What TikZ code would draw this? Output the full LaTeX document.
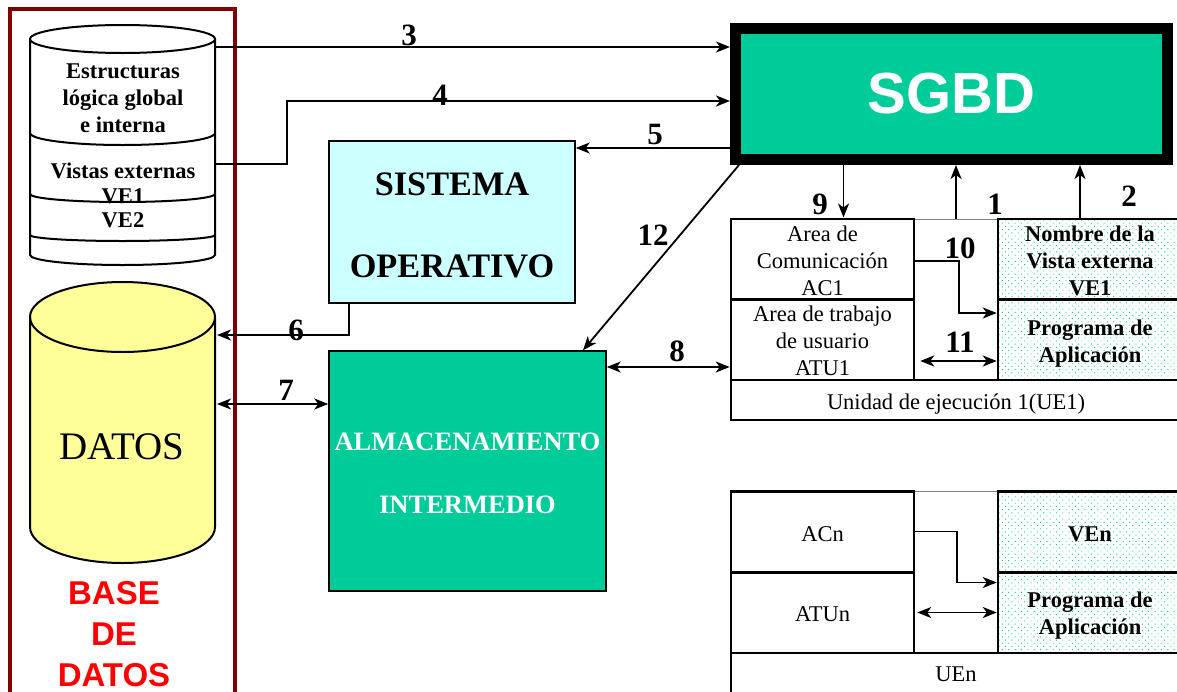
\documentclass[tikz,border=0pt]{standalone}
\usepackage{fontspec}
\setmainfont{Liberation Serif}
\newfontfamily\sansbd{Liberation Sans}[Scale=1.0]
\usetikzlibrary{arrows.meta, patterns.meta, positioning}

\definecolor{verde}{HTML}{00CC99}
\definecolor{amarillo}{HTML}{FFFF99}
\definecolor{celeste}{HTML}{CCFFFF}
\definecolor{granate}{HTML}{800000}

\newcommand{\bajar}[1]{\rule{0pt}{#1pt}}

\tikzset{
	flecha/.style={-{Stealth[length=14pt,width=11pt,inset=4pt]}, line width=1.8},
	dflecha/.style={{Stealth[length=14pt,width=11pt,inset=4pt]}-{Stealth[length=14pt,width=11pt,inset=4pt]}, line width=1.8},
	num/.style={font=\fontsize{31}{31}\selectfont\bfseries, inner sep=0},
	txt/.style={font=\fontsize{22.5}{27}\selectfont, text centered, align=center, inner sep=0},
	txtb/.style={font=\fontsize{22.5}{27}\selectfont\bfseries, text centered, align=center, inner sep=0},
	caja/.style={draw, line width=2.5, rectangle, minimum width=183, minimum height=80.5, txt},
	medio/.style={draw=gray, line width=1, rectangle, minimum width=84, minimum height=161},
	punteado/.style={draw, line width=2.5, rectangle, minimum width=184, minimum height=80.5, txtb,
		pattern={Dots[distance=4.5pt,radius=0.65pt,angle=45]}, pattern color=verde},
	banda/.style={draw, line width=2, rectangle, minimum width=450, txt},
	cilindro/.style={draw, line width=2},
}

\begin{document}
\begin{tikzpicture}[x=1pt, y=1pt]
	\useasboundingbox (0,0) rectangle (1177,-691);

	% base de datos %
	\node[draw=granate, line width=4, rectangle, minimum width=225, minimum height=691, anchor=north west, inner sep=0, outer sep=0] (bd) at (10,-9) {};

	\draw[cilindro] (30,-39) -- (30,-255) arc[start angle=180, end angle=360, x radius=92.5, y radius=10] -- (215,-39);
	\draw[cilindro] (122.5,-39) ellipse [x radius=92.5, y radius=14];
	\draw[cilindro] (30,-133) arc[start angle=180, end angle=360, x radius=92.5, y radius=12];
	\draw[cilindro] (30,-194) arc[start angle=180, end angle=360, x radius=92.5, y radius=8];
	\draw[cilindro] (30,-235) arc[start angle=180, end angle=360, x radius=92.5, y radius=6];

	\draw[cilindro, fill=amarillo] (30,-317) -- (30,-527) arc[start angle=180, end angle=360, x radius=92.5, y radius=36] -- (215,-317) arc[start angle=0, end angle=180, x radius=92.5, y radius=35];
	\draw[cilindro] (30,-317) arc[start angle=180, end angle=360, x radius=92.5, y radius=35];

	\coordinate (log) at (215,-47);
	\coordinate (ext) at (215,-164);
	\coordinate (dat6) at (217,-335);
	\coordinate (dat7) at (217,-404);

	% nodes %
	\node[txtb] (estr) at (123,-98) {Estructuras\\lógica global\\e interna};
	\node[txtb] (vext) at (123,-171) {Vistas externas};
	\node[txtb] (ve1c) at (123,-196) {VE1};
	\node[txtb] (ve2c) at (123,-220) {VE2};
	\node[inner sep=0, font=\fontsize{39}{39}\selectfont] (datos) at (122,-447) {DATOS};
	\node[inner sep=0, text=red, align=center, font=\fontsize{33}{41}\selectfont\sansbd\bfseries] (tbd) at (114,-634) {BASE\\DE\\DATOS};

	\node[draw, line width=11, rectangle, fill=verde, minimum width=432, minimum height=131, inner sep=0, text=white, font=\fontsize{58}{58}\selectfont\sansbd\bfseries] (sgbd) at (951.5,-94) {SGBD};

	\node[draw, line width=1.5, rectangle, fill=celeste, minimum width=246, minimum height=162, inner sep=0, align=center, font=\fontsize{34.3}{82}\selectfont\bfseries] (so) at (452,-222) {\bajar{29.5}SISTEMA\\OPERATIVO};
	\node[draw, line width=1.5, rectangle, fill=verde, minimum width=277, minimum height=240, inner sep=0, align=center, text=white, font=\fontsize{26.5}{63}\selectfont\bfseries] (alm) at (467.5,-471) {\bajar{22}ALMACENAMIENTO\\INTERMEDIO};

	% unidad 1 %
	\node[medio] (mu1) at (956,-299.5) {};
	\node[caja] (ac1) at (822.5,-259) {\bajar{19}Area de\\Comunicación\\AC1};
	\node[caja, below of = ac1, node distance=80.5] (atu1) {\bajar{19}Area de trabajo\\de usuario\\ATU1};
	\node[punteado, right of = ac1, node distance=267.5] (ve1) {\bajar{19}Nombre de la\\Vista externa\\VE1};
	\node[punteado, below of = ve1, node distance=80.5] (prg1) {\bajar{23}Programa de\\Aplicación};
	\node[banda, minimum height=40] (ue1) at (956,-400) {\bajar{23}Unidad de ejecución 1(UE1)};

	% unidad n %
	\node[medio] (mun) at (956,-572) {};
	\node[caja] (acn) at (822.5,-531.5) {\bajar{21}ACn};
	\node[caja, below of = acn, node distance=81] (atun) {\bajar{19}ATUn};
	\node[punteado, right of = acn, node distance=267.5] (ven) {\bajar{21}VEn};
	\node[punteado, below of = ven, node distance=81] (prgn) {\bajar{21}Programa de\\Aplicación};
	\node[banda, minimum height=42] (uen) at (956,-674) {UEn};

	% edges %
	\draw[flecha] (log) -- (sgbd.west |- log);
	\draw[flecha] (ext) -- ++(72,0) |- ([yshift=-7pt]sgbd.west);
	\draw[flecha] ([yshift=-54pt]sgbd.west) -- ([yshift=74pt]so.east);
	\draw[flecha] ([xshift=-103pt]so.south) |- (dat6);
	\draw[dflecha] (dat7) -- (alm.west |- dat7);
	\draw[dflecha] ([yshift=104pt]alm.east) -- ([yshift=-27.5pt]atu1.west);
	\draw[flecha] ([xshift=9pt]sgbd.south west) -- ([xshift=115.5pt]alm.north);
	\draw[flecha] ([xshift=21pt]ac1.north |- sgbd.south) -- ([xshift=21pt]ac1.north);
	\draw[flecha] (mu1.north) -- (mu1.north |- sgbd.south);
	\draw[flecha] ([xshift=-10pt]ve1.north) -- ([xshift=-10pt]ve1.north |- sgbd.south);
	\draw[flecha] ([yshift=-2pt]ac1.east) -- ++(44,0) |- ([yshift=26.5pt]prg1.west);
	\draw[dflecha] ([xshift=5pt, yshift=-21.5pt]atu1.east) -- ([yshift=-21.5pt]prg1.west);
	\draw[flecha] (acn.east) -- ++(42,0) |- ([yshift=30pt]prgn.west);
	\draw[dflecha] ([xshift=2pt]atun.east) -- (prgn.west);

	% numeros %
	\node[num] (n1) at (995,-204) {1};
	\node[num] (n2) at (1129,-196) {2};
	\node[num] (n3) at (409,-35) {3};
	\node[num] (n4) at (440,-95) {4};
	\node[num] (n5) at (655,-134) {5};
	\node[num] (n6) at (296,-330) {6};
	\node[num] (n7) at (286,-390) {7};
	\node[num] (n8) at (677,-351) {8};
	\node[num] (n9) at (820,-204) {9};
	\node[num] (n10) at (960,-248) {10};
	\node[num] (n11) at (960,-342) {11};
	\node[num] (n12) at (653,-235) {12};
\end{tikzpicture}
\end{document}
